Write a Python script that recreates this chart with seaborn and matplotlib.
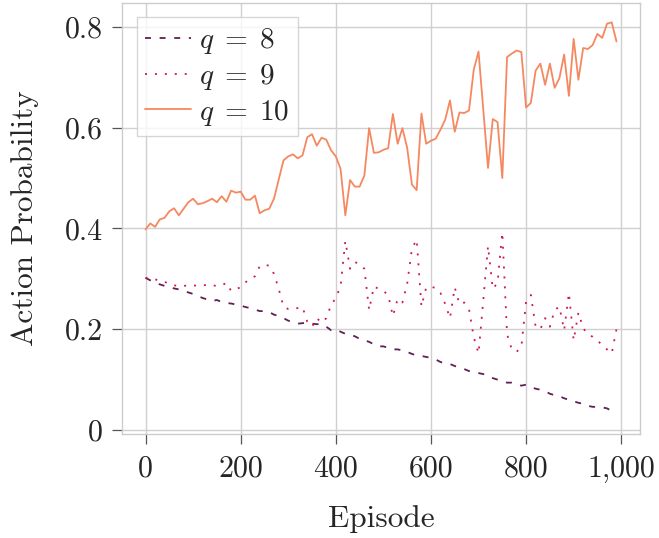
import numpy as np
import pandas as pd
import seaborn as sns
import matplotlib
matplotlib.use("Agg")
import matplotlib.pyplot as plt
from matplotlib.ticker import FuncFormatter, FixedLocator

episodes = list(range(0, 1000, 10))

q8 = [0.302, 0.297, 0.292, 0.289, 0.286, 0.283, 0.281, 0.279, 0.276, 0.273,
      0.270, 0.266, 0.262, 0.259, 0.256, 0.258, 0.254, 0.252, 0.251, 0.249,
      0.247, 0.244, 0.242, 0.239, 0.236, 0.236, 0.234, 0.229, 0.226, 0.222,
      0.217, 0.214, 0.211, 0.212, 0.213, 0.211, 0.210, 0.210, 0.205, 0.198,
      0.200, 0.195, 0.191, 0.189, 0.186, 0.181, 0.178, 0.175, 0.170, 0.166,
      0.166, 0.163, 0.160, 0.160, 0.158, 0.155, 0.151, 0.148, 0.147, 0.145,
      0.143, 0.140, 0.135, 0.132, 0.131, 0.127, 0.124, 0.121, 0.117, 0.115,
      0.113, 0.111, 0.108, 0.103, 0.100, 0.097, 0.094, 0.094, 0.092, 0.088,
      0.090, 0.085, 0.082, 0.080, 0.077, 0.072, 0.069, 0.067, 0.063, 0.060,
      0.057, 0.054, 0.052, 0.048, 0.046, 0.046, 0.045, 0.043, 0.038, 0.031]

q9 = [0.302, 0.300, 0.299, 0.296, 0.294, 0.290, 0.287, 0.286, 0.286, 0.287,
      0.287, 0.286, 0.287, 0.288, 0.287, 0.286, 0.287, 0.292, 0.276, 0.280,
      0.283, 0.293, 0.300, 0.305, 0.325, 0.328, 0.326, 0.310, 0.280, 0.245,
      0.240, 0.240, 0.242, 0.244, 0.215, 0.205, 0.222, 0.213, 0.222, 0.248,
      0.262, 0.285, 0.375, 0.320, 0.333, 0.330, 0.320, 0.238, 0.285, 0.280,
      0.276, 0.268, 0.226, 0.260, 0.253, 0.290, 0.360, 0.378, 0.245, 0.283,
      0.284, 0.282, 0.272, 0.250, 0.222, 0.283, 0.250, 0.253, 0.240, 0.184,
      0.152, 0.257, 0.365, 0.280, 0.292, 0.392, 0.190, 0.160, 0.155, 0.165,
      0.255, 0.268, 0.205, 0.200, 0.222, 0.205, 0.238, 0.245, 0.198, 0.272,
      0.178, 0.233, 0.202, 0.190, 0.185, 0.178, 0.168, 0.160, 0.152, 0.200]

q10 = [0.398, 0.410, 0.403, 0.418, 0.421, 0.434, 0.440, 0.426, 0.439, 0.452,
       0.459, 0.448, 0.450, 0.454, 0.459, 0.452, 0.464, 0.453, 0.475, 0.471,
       0.473, 0.457, 0.457, 0.465, 0.430, 0.436, 0.439, 0.459, 0.497, 0.535,
       0.543, 0.547, 0.539, 0.545, 0.581, 0.587, 0.564, 0.580, 0.576, 0.555,
       0.543, 0.518, 0.426, 0.496, 0.483, 0.483, 0.505, 0.599, 0.550, 0.551,
       0.556, 0.559, 0.627, 0.568, 0.599, 0.560, 0.487, 0.476, 0.628, 0.568,
       0.574, 0.578, 0.596, 0.616, 0.654, 0.592, 0.630, 0.629, 0.634, 0.715,
       0.751, 0.636, 0.520, 0.617, 0.611, 0.500, 0.740, 0.747, 0.753, 0.750,
       0.640, 0.649, 0.713, 0.727, 0.685, 0.727, 0.679, 0.698, 0.745, 0.663,
       0.776, 0.695, 0.758, 0.756, 0.764, 0.786, 0.778, 0.806, 0.809, 0.771]

labels = [r"$q\;=\;8$", r"$q\;=\;9$", r"$q\;=\;10$"]
series = [q8, q9, q10]

x_ticks = [0, 200, 400, 600, 800, 1000]
y_ticks = [0, 0.2, 0.4, 0.6, 0.8]

df = pd.concat(
    [pd.DataFrame({"Episode": episodes, "prob": vals, "q": lab})
     for lab, vals in zip(labels, series)],
    ignore_index=True,
)

sns.set_theme(style="whitegrid")
plt.rcParams["font.family"] = ["cmr10"]
plt.rcParams["mathtext.fontset"] = "cm"
plt.rcParams["axes.unicode_minus"] = False
plt.rcParams["axes.formatter.use_mathtext"] = True

FS = 21.5
LFS = 22.5
fig = plt.figure(figsize=(6.59, 5.38), dpi=100)
ax = fig.add_axes([0.1851, 0.1933, 0.9712 - 0.1851, 0.995 - 0.1933])

palette = dict(zip(labels, sns.color_palette("rocket", 3)))
dashes = {labels[0]: (3.3, 4.8), labels[1]: (1.1, 4.4), labels[2]: ""}

sns.lineplot(data=df, x="Episode", y="prob", hue="q", style="q",
             hue_order=labels, style_order=labels, palette=palette,
             dashes=dashes, linewidth=1.3, ax=ax)

ax.set_xlabel("Episode", fontsize=LFS, labelpad=16)
ax.set_ylabel("Action Probability", fontsize=LFS, labelpad=19)
ax.xaxis.set_major_locator(FixedLocator(x_ticks))
ax.yaxis.set_major_locator(FixedLocator(y_ticks))
ax.xaxis.set_major_formatter(FuncFormatter(lambda v, p: f"{v:,.0f}"))
ax.yaxis.set_major_formatter(FuncFormatter(lambda v, p: f"{v:g}"))
ax.tick_params(axis="both", which="major", labelsize=FS, length=7.5,
               width=0.9, color="#555555", pad=6,
               bottom=True, left=True)
ax.tick_params(axis="x", pad=8)
for s in ax.spines.values():
    s.set_color("#cccccc")
    s.set_linewidth(1.0)
ax.grid(True, color="#d0d0d0", linewidth=1.0)

handles, labs = ax.get_legend_handles_labels()
leg = ax.legend(handles, labs, loc="upper left", fontsize=21,
                handlelength=1.55, handletextpad=0.3, labelspacing=0.2,
                borderpad=0.3, borderaxespad=0.5, frameon=True,
                fancybox=False, framealpha=0.8, edgecolor="#cccccc")
leg.get_frame().set_linewidth(1.0)

fig.savefig("out.png", dpi=100)
